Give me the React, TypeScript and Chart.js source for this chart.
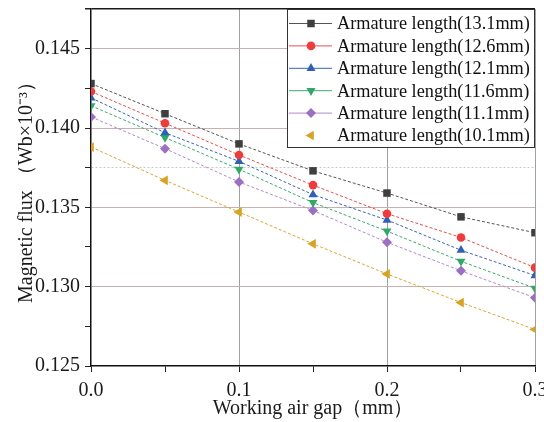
import React, { useEffect, useRef } from "react";
import { Chart, registerables } from "chart.js";

Chart.register(...registerables);

const gap = [0, 0.05, 0.1, 0.15, 0.2, 0.25, 0.3];
const len131 = [0.1428, 0.1409, 0.1390, 0.1373, 0.1359, 0.1344, 0.1334];
const len126 = [0.1423, 0.1403, 0.1383, 0.1364, 0.1346, 0.1331, 0.1312];
const len121 = [0.1419, 0.1397, 0.1379, 0.1358, 0.1342, 0.1323, 0.1307];
const len116 = [0.1414, 0.1394, 0.1374, 0.1353, 0.1335, 0.1316, 0.1299];
const len111 = [0.1407, 0.1387, 0.1366, 0.1348, 0.1328, 0.1310, 0.1293];
const len101 = [0.1388, 0.1367, 0.1347, 0.1327, 0.1308, 0.1290, 0.1273];

const seriesLabels = [
  "Armature length(13.1mm)",
  "Armature length(12.6mm)",
  "Armature length(12.1mm)",
  "Armature length(11.6mm)",
  "Armature length(11.1mm)",
  "Armature length(10.1mm)",
];
const seriesValues = [len131, len126, len121, len116, len111, len101];
const markerColors = ["#3f3f3f", "#ee3b3b", "#2f5fb6", "#2fa86a", "#9d6fc2", "#d6a324"];
const lineColors = ["#555555", "#e35050", "#3a65b5", "#3fa874", "#b388cc", "#d6a830"];
const pointStyles = ["rect", "circle", "triangle", "triangle", "rectRot", "triangle"];
const pointRotations = [0, 0, 0, 180, 0, -90];
const pointRadii = [5.3, 4.3, 5.2, 5.2, 5, 5.6];
const legendShowsLine = [true, true, true, true, true, false];

const FONT = "'Liberation Serif', 'Times New Roman', serif";

function drawMarker(ctx: CanvasRenderingContext2D, style: string, rot: number, r: number, x: number, y: number, color: string) {
  ctx.save();
  ctx.translate(x, y);
  ctx.rotate((rot * Math.PI) / 180);
  ctx.fillStyle = color;
  ctx.beginPath();
  if (style === "rect") {
    const s = Math.SQRT1_2 * r;
    ctx.rect(-s, -s, 2 * s, 2 * s);
  } else if (style === "circle") {
    ctx.arc(0, 0, r, 0, Math.PI * 2);
  } else if (style === "rectRot") {
    ctx.moveTo(0, -r);
    ctx.lineTo(r, 0);
    ctx.lineTo(0, r);
    ctx.lineTo(-r, 0);
    ctx.closePath();
  } else {
    const h = (r * 3) / 2;
    const side = (r * 3) / Math.sqrt(3);
    ctx.moveTo(-side / 2, h / 3);
    ctx.lineTo(side / 2, h / 3);
    ctx.lineTo(0, (-2 * h) / 3);
    ctx.closePath();
  }
  ctx.fill();
  ctx.restore();
}

const legendPlugin = {
  id: "boxLegend",
  afterDraw(chart: any) {
    const { ctx, chartArea } = chart;
    const w = 248;
    const h = 139;
    const left = chartArea.right - w;
    const top = chartArea.top;
    ctx.save();
    ctx.fillStyle = "#ffffff";
    ctx.fillRect(left, top, w, h);
    ctx.strokeStyle = "#333333";
    ctx.lineWidth = 1;
    ctx.strokeRect(left + 0.5, top + 0.5, w - 1, h - 1);
    ctx.font = `18.3px ${FONT}`;
    ctx.textBaseline = "middle";
    ctx.textAlign = "left";
    for (let i = 0; i < seriesLabels.length; i++) {
      const cy = top + 14.5 + i * 22.4;
      if (legendShowsLine[i]) {
        ctx.strokeStyle = lineColors[i];
        ctx.lineWidth = 1;
        ctx.beginPath();
        ctx.moveTo(left + 2, cy);
        ctx.lineTo(left + 45, cy);
        ctx.stroke();
      }
      drawMarker(ctx, pointStyles[i], pointRotations[i], pointRadii[i], left + 24, cy, markerColors[i]);
      ctx.fillStyle = "#111111";
      ctx.fillText(seriesLabels[i], left + 50, cy + 1);
    }
    ctx.restore();
  },
};

const key = (v: number) => Math.round(v * 10000);

export default function App() {
  const ref = useRef<HTMLCanvasElement | null>(null);
  useEffect(() => {
    if (!ref.current) return;
    const datasets = seriesValues.map((vals, i) => ({
      label: seriesLabels[i],
      data: vals.map((v, j) => ({ x: gap[j], y: v })),
      borderColor: lineColors[i],
      backgroundColor: markerColors[i],
      pointBackgroundColor: markerColors[i],
      pointBorderColor: markerColors[i],
      pointBorderWidth: 0,
      borderWidth: 1,
      borderDash: [3, 2],
      pointStyle: pointStyles[i],
      rotation: pointRotations[i],
      pointRadius: pointRadii[i],
      tension: 0,
    }));
    const chart = new Chart(ref.current, {
      type: "line",
      data: { datasets },
      plugins: [legendPlugin],
      options: {
        animation: false,
        responsive: false,
        devicePixelRatio: 1,
        layout: { padding: { top: 9, right: 9, left: 0, bottom: 0 } },
        plugins: { legend: { display: false }, tooltip: { enabled: false } },
        scales: {
          x: {
            type: "linear",
            min: 0,
            max: 0.3,
            afterFit: (s: any) => {
              s.height = 56;
              s.paddingLeft = 0;
              s.paddingRight = 0;
            },
            ticks: {
              stepSize: 0.05,
              autoSkip: false,
              maxRotation: 0,
              padding: 7,
              color: "#1a1a1a",
              font: { family: FONT, size: 20 },
              callback: (v: any) => (key(Number(v)) % 1000 === 0 ? Number(v).toFixed(1) : ""),
            },
            grid: {
              color: (c: any) => {
                const k = c.tick ? key(c.tick.value) : -1;
                return k === 1000 || k === 2000 || k === 3000 ? "#a0a0a0" : "rgba(0,0,0,0)";
              },
              tickColor: "#222222",
              tickLength: 6,
              lineWidth: 1,
            },
            border: { color: "#111111", width: 1.5 },
            title: {
              display: true,
              text: "Working air gap（mm）",
              color: "#1a1a1a",
              font: { family: FONT, size: 20, lineHeight: 1.2 },
              padding: { top: 0, bottom: 1 },
            },
          },
          y: {
            type: "linear",
            min: 0.125,
            max: 0.1475,
            afterFit: (s: any) => {
              s.width = 91;
              s.paddingTop = 0;
              s.paddingBottom = 0;
            },
            ticks: {
              stepSize: 0.0025,
              autoSkip: false,
              padding: 5,
              color: "#1a1a1a",
              font: { family: FONT, size: 20 },
              callback: (v: any) => {
                const k = key(Number(v));
                return k % 50 === 0 ? Number(v).toFixed(3) : "";
              },
            },
            grid: {
              color: (c: any) => {
                const k = c.tick ? key(c.tick.value) : -1;
                if (k === 1475) return "#1a1a1a";
                if (k === 1375) return "#c9c9c9";
                if (k > 1250 && k % 50 === 0) return "#c6b0b0";
                return "rgba(0,0,0,0)";
              },
              lineWidth: (c: any) => (c.tick && key(c.tick.value) === 1475 ? 1.5 : 1),
              tickColor: "#222222",
              tickLength: 6,
            },
            border: {
              color: "#111111",
              width: 1.5,
              dash: (c: any) => (c.tick && key(c.tick.value) === 1375 ? [2, 2] : []),
            },
            title: {
              display: true,
              text: "Magnetic flux （Wb×10⁻³）",
              color: "#1a1a1a",
              font: { family: FONT, size: 20, lineHeight: 1.2 },
              padding: { top: 15, bottom: 0 },
            },
          },
        },
      } as any,
    });
    return () => chart.destroy();
  }, []);
  return (
    <div style={{ position: "absolute", left: 0, top: 0, width: 544, height: 422, background: "#ffffff" }}>
      <canvas ref={ref} width={544} height={422} />
    </div>
  );
}
